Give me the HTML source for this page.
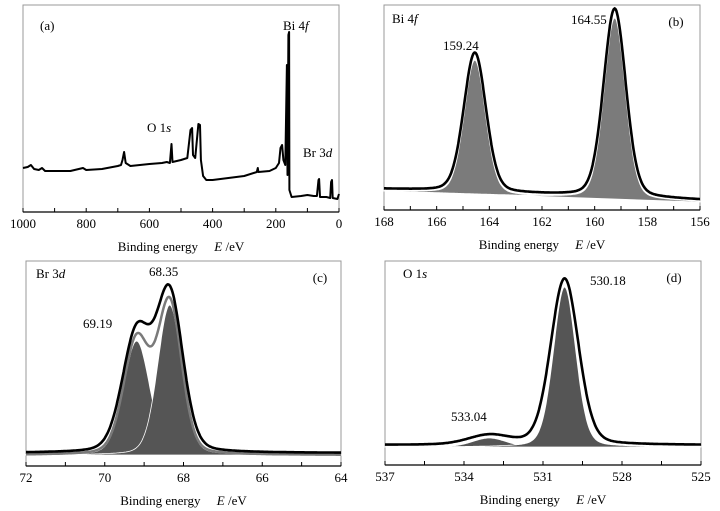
<!DOCTYPE html>
<html><head><meta charset="utf-8">
<style>
body{margin:0;background:#fff;}
svg{display:block;font-family:"Liberation Serif",serif;}
</style></head>
<body>
<svg id="fig" width="720" height="511" viewBox="0 0 720 511"></svg>
<script>
// Panel (a) survey
const surveyBE = [1000,985,975,965,950,940,930,900,850,810,800,750,700,690,685,680,675,660,600,560,545,535,530,527,500,480,470,465,462,455,445,440,437,430,420,400,350,300,260,257,255,220,200,190,185,180,176,170,165,163,160,158,157,150,120,100,80,70,65,63,60,40,28,25,22,20,5,0];
const surveyI = [44,45,47,43,42,44,41,41,41,44,42,43,46,47,52,60,49,46,48,49,50,49,68,50,52,54,82,84,57,54,88,87,52,36,32,32,34,36,40,44,40,41,44,49,64,67,52,47,147,37,177,180,22,15,16,17,16,16,32,33,15,15,14,30,32,14,13,18];
// Panel (b) Bi 4f
const biCenters = [164.55, 159.24];
const biHeights = [134, 181];
const biFwhm = [0.95, 0.95];
const biBase = [19, 8];
const biTicks = [168,166,164,162,160,158,156];
// Panel (c) Br 3d
const brCenters = [69.19, 68.35];
const brHeights = [114, 150];
const brFwhm = [0.78, 0.72];
const brBase = [11, 11];
const brTicks = [72,70,68,66,64];
// Panel (d) O 1s
const oCenters = [533.04, 530.18];
const oHeights = [9, 160];
const oFwhm = [1.5, 1.0];
const oBase = [18, 18];
const oTicks = [537,534,531,528,525];

const NS="http://www.w3.org/2000/svg";
const svg=document.getElementById('fig');
function el(tag,attrs,parent){const e=document.createElementNS(NS,tag);for(const k in attrs)e.setAttribute(k,attrs[k]);(parent||svg).appendChild(e);return e;}
function pv(x,c,h,f){const s=f/2.3548;const g=Math.exp(-0.5*((x-c)/s)**2);const l=1/(1+((x-c)/(f/2))**2);return h*(0.8*g+0.2*l);}

function panel(id,L,R,T,B,x0,x1,ticks,minor){
  const g=el('g',{});
  
  
  const sx=v=>L+(x0-v)/(x0-x1)*(R-L);
  const sy=v=>B-v;
  const box=el('rect',{x:L,y:T,width:R-L,height:B-T,fill:'none',stroke:'#999','stroke-width':1},g);
  
  
  const ax=el('line',{x1:L,x2:R,y1:B,y2:B,stroke:'#000','stroke-width':1.3},g);
  
  
  for(const t of minor){const tk=el('line',{x1:sx(t),x2:sx(t),y1:B,y2:B-4,stroke:'#000','stroke-width':1},g);
    
    }
  ticks.forEach(t=>{const tx=el('text',{x:sx(t),y:B+16,'text-anchor':'middle','font-size':13},g);tx.textContent=String(t);
    
    });
  const at=el('text',{x:(L+R)/2,y:B+39,'text-anchor':'middle','font-size':13},g);
  at.innerHTML='Binding energy&#160;&#160;&#160;&#160; <tspan font-style="italic">E</tspan> /eV';
  
  
  return {g,sx,sy};
}
function label(g,x,y,html,name,anchor){const t=el('text',{x,y,'font-size':13,'text-anchor':anchor||'start'},g);t.innerHTML=html;
  
  return t;}
function range(a,b,st){const r=[];for(let v=a;v<=b+1e-9;v+=st)r.push(+v.toFixed(3));return r;}

// (a)
{
 const P=panel('a',23,339,5,212,1000,0,[1000,800,600,400,200,0],range(0,1000,100));
 const d=surveyBE.map((b,i)=>(i?'L':'M')+P.sx(b).toFixed(1)+','+P.sy(surveyI[i]).toFixed(1)).join('');
 const p=el('path',{d,fill:'none',stroke:'#000','stroke-width':2,'stroke-linejoin':'round'},P.g);
 
 
 label(P.g,40,30,'(a)','panel-label-a');
 label(P.g,283,30,'Bi 4<tspan font-style="italic">f</tspan>','label-bi4f');
 label(P.g,147,132,'O 1<tspan font-style="italic">s</tspan>','label-o1s');
 label(P.g,303,157,'Br 3<tspan font-style="italic">d</tspan>','label-br3d');
}
function fitPanel(id,L,R,T,B,x0,x1,ticks,minor,cen,hei,fw,base,fillCol,envCol,widen){
  const P=panel(id,L,R,T,B,x0,x1,ticks,minor);
  const N=400;const xs=[];for(let i=0;i<=N;i++)xs.push(x0+(x1-x0)*i/N);
  const bl=x=>base[0]+(base[1]-base[0])*(x-x0)/(x1-x0);
  cen.forEach((c,k)=>{
    let d='M'+P.sx(x0)+','+P.sy(bl(x0));
    xs.forEach(x=>{d+='L'+P.sx(x).toFixed(1)+','+P.sy(bl(x)+pv(x,c,hei[k],fw[k])).toFixed(1);});
    d+='L'+P.sx(x1)+','+P.sy(bl(x1))+'Z';
    const p=el('path',{d,fill:fillCol,stroke:'#fff','stroke-width':0.8},P.g);
    
    
  });
  const env=x=>bl(x)+cen.reduce((s,c,k)=>s+pv(x,c,hei[k],fw[k]),0);
  if(envCol){
    const d=xs.map((x,i)=>(i?'L':'M')+P.sx(x).toFixed(1)+','+P.sy(env(x)).toFixed(1)).join('');
    const p=el('path',{d,fill:'none',stroke:envCol,'stroke-width':2.5},P.g);
    
    
  }
  const meas=x=>bl(x)+cen.reduce((s,c,k)=>s+pv(x,c,hei[k]*1.04,fw[k]*widen),0);
  const d=xs.map((x,i)=>(i?'L':'M')+P.sx(x).toFixed(1)+','+P.sy(meas(x)+2).toFixed(1)).join('');
  const p=el('path',{d,fill:'none',stroke:'#000','stroke-width':2.6},P.g);
  
  
  return P;
}
{
 const P=fitPanel('b',384,700,5,210,168,156,biTicks,range(156,168,1),biCenters,biHeights,biFwhm,biBase,'#7b7b7b',null,1.05);
 label(P.g,392,23,'Bi 4<tspan font-style="italic">f</tspan>','label-bi4f-b');
 label(P.g,676,26,'(b)','panel-label-b','middle');
 label(P.g,443,50,'159.24','peak-label-159');
 label(P.g,571,24,'164.55','peak-label-164');
}
{
 const P=fitPanel('c',26,341,261,466,72,64,brTicks,range(64,72,1),brCenters,brHeights,brFwhm,brBase,'#555','#7a7a7a',1.1);
 label(P.g,36,278,'Br 3<tspan font-style="italic">d</tspan>','label-br3d-c');
 label(P.g,320,282,'(c)','panel-label-c','middle');
 label(P.g,149,276,'68.35','peak-label-6835');
 label(P.g,83,328,'69.19','peak-label-6919');
}
{
 const P=fitPanel('d',385,701,261,465,537,525,oTicks,range(525,537,1.5),oCenters,oHeights,oFwhm,oBase,'#555',null,1.25);
 label(P.g,403,278,'O 1<tspan font-style="italic">s</tspan>','label-o1s-d');
 label(P.g,674,282,'(d)','panel-label-d','middle');
 label(P.g,590,285,'530.18','peak-label-53018');
 label(P.g,451,421,'533.04','peak-label-53304');
}
</script>
</body></html>
